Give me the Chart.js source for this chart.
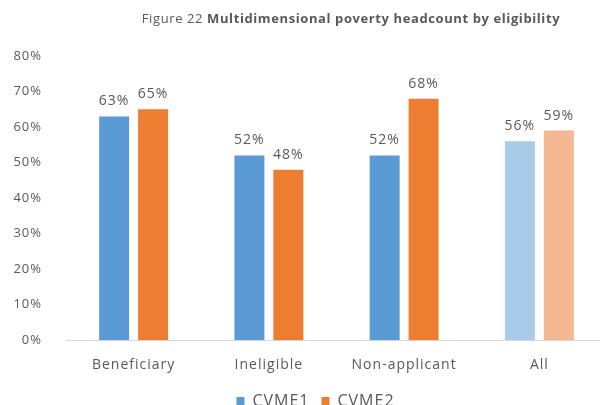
<!DOCTYPE html>
<html>
<head>
<meta charset="utf-8">
<script src="https://cdn.jsdelivr.net/npm/chart.js@4/dist/chart.umd.min.js"></script>
<style>
  html, body { margin: 0; padding: 0; background: #fff; overflow: hidden; }
  #wrap { position: relative; width: 600px; height: 405px; overflow: hidden; }
  #title {
    position: absolute; top: 9px; left: 0; width: 600px; padding-left: 102px; box-sizing: border-box;
    text-align: center; font-family: 'Open Sans', sans-serif; font-size: 13px; letter-spacing: 0.6px; color: #595959;
  }
  #title b { font-weight: 700; }
</style>
</head>
<body>
<div id="wrap">
  <div id="title">Figure 22 <b>Multidimensional poverty headcount by eligibility</b></div>
  <canvas id="chart" width="612" height="419"></canvas>
</div>
<script>
// values (percent)
const categories = ['Beneficiary', 'Ineligible', 'Non-applicant', 'All'];
const cvme1 = [63, 52, 52, 56];
const cvme2 = [65, 48, 68, 59];
const seriesNames = ['CVME1', 'CVME2'];

const blue = '#5B9BD5', orange = '#ED7D31';
const lightBlue = '#A9CBEA', lightOrange = '#F6B892';

// the reference text is widely spaced
const spacing = {
    id: 'spacing',
    beforeDraw: function(chart) { chart.ctx.letterSpacing = '1px'; },
    beforeLayout: function(chart) { chart.ctx.letterSpacing = '1px'; }
};

// legend sits a bit right of the canvas centre in the reference
const legendShift = {
    id: 'legendShift',
    afterLayout: function(chart) {
        chart.legend.left += 12;
        chart.legend.right += 12;
    }
};

// draws "63%" etc above each bar
const valueLabels = {
    id: 'valueLabels',
    afterDatasetsDraw: function(chart) {
        const ctx = chart.ctx;
        ctx.save();
        ctx.font = '14px "Open Sans", sans-serif';
        ctx.fillStyle = '#595959';
        ctx.textAlign = 'center';
        ctx.textBaseline = 'alphabetic';
        chart.data.datasets.forEach(function(ds, i) {
            chart.getDatasetMeta(i).data.forEach(function(bar, j) {
                ctx.fillText(ds.data[j] + '%', bar.x, bar.y - 11);
            });
        });
        ctx.restore();
    }
};

new Chart(document.getElementById('chart'), {
    type: 'bar',
    data: {
        labels: categories,
        datasets: [{
            label: seriesNames[0],
            data: cvme1,
            backgroundColor: [blue, blue, blue, lightBlue],
        }, {
            label: seriesNames[1],
            data: cvme2,
            backgroundColor: [orange, orange, orange, lightOrange],
        }]
    },
    options: {
        responsive: false,
        animation: false,
        categoryPercentage: 0.576,
        barPercentage: 0.77,
        layout: { padding: { top: 56, right: 5, left: 0, bottom: 0 } },
        plugins: {
            tooltip: { enabled: false },
            legend: {
                position: 'bottom',
                labels: {
                    boxWidth: 8, boxHeight: 8, padding: 12,
                    color: '#595959',
                    font: { family: 'Open Sans', size: 16 },
                    generateLabels: function(chart) {
                        return seriesNames.map(function(n, i) {
                            return { text: n, fillStyle: i ? orange : blue, strokeStyle: 'transparent', lineWidth: 0, datasetIndex: i, fontColor: '#595959' };
                        });
                    }
                }
            }
        },
        scales: {
            y: {
                min: 0, max: 80,
                ticks: {
                    stepSize: 10, padding: 16,
                    color: '#595959',
                    font: { family: 'Open Sans', size: 13 },
                    callback: function(v) { return v + '%'; }
                },
                grid: { display: false },
                border: { display: false },
                afterFit: function(scale) { scale.width = 66; }
            },
            x: {
                ticks: {
                    color: '#595959', padding: 8,
                    font: { family: 'Open Sans', size: 14 }
                },
                grid: { display: false },
                border: { color: '#D9D9D9' }
            }
        }
    },
    plugins: [spacing, legendShift, valueLabels]
});
</script>
</body>
</html>
